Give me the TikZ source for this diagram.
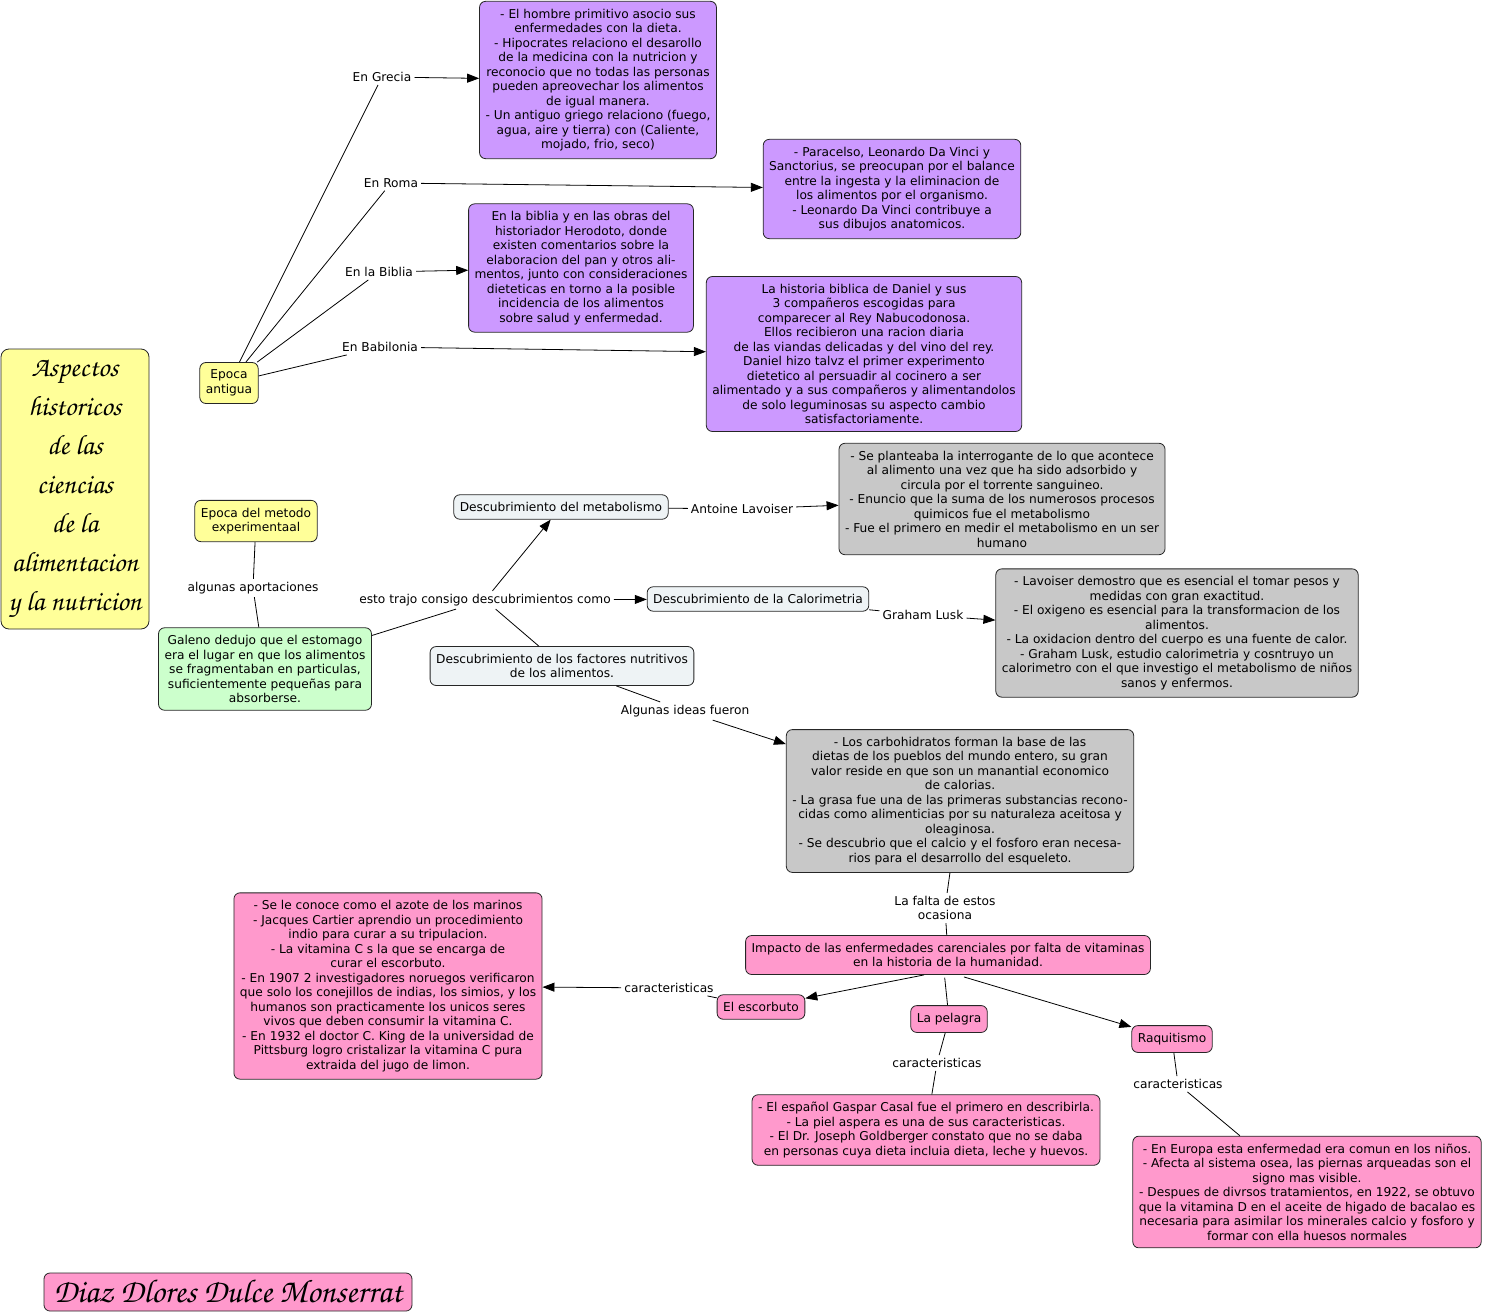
\documentclass[tikz,border=0pt]{standalone}
\usepackage{fontspec}
\setmainfont{DejaVu Sans}
\newfontfamily\letracursiva{texgyrechorus-mediumitalic}[Extension=.otf]
\usetikzlibrary{arrows.meta}
\definecolor{amarillo}{HTML}{FFFF99}
\definecolor{lila}{HTML}{CC99FF}
\definecolor{verdecito}{HTML}{CCFFCC}
\definecolor{celeste}{HTML}{EEF3F5}
\definecolor{grisclaro}{HTML}{C8C8C8}
\definecolor{rosa}{HTML}{FF99CC}
\begin{document}
\begin{tikzpicture}[x=1pt, y=-1pt,
    every node/.style={font=\fontsize{12.2}{14.5}\selectfont, align=center, inner sep=3pt},
    caja/.style={draw=black!85, line width=0.8pt, rounded corners=6pt, inner xsep=6pt, inner ysep=7.5pt},
    enlace/.style={draw=black, line width=0.8pt},
    flecha/.style={enlace, -{Triangle[length=12pt,width=9pt]}}]
    \useasboundingbox (0,0) rectangle (1486,1314);

    % titulo y autora
    \node[caja, fill=amarillo, rounded corners=8pt, minimum width=148, minimum height=280,
          font=\letracursiva\fontsize{28}{39}\selectfont] (titulo) at (75,489)
        {Aspectos\\historicos\\de las\\ciencias\\de la\\alimentacion\\y la nutricion};
    \node[caja, fill=rosa, minimum width=368, minimum height=38, inner ysep=2pt,
          font=\letracursiva\fontsize{33}{33}\selectfont] (autora) at (228,1292)
        {Diaz Dlores Dulce Monserrat};

    % Epoca antigua
    \node[caja, fill=amarillo] (antigua) at (229,383) {Epoca\\antigua};
    \node[caja, fill=lila] (grecia) at (598,80)
        {- El hombre primitivo asocio sus\\enfermedades con la dieta.\\- Hipocrates relaciono el desarollo\\de la medicina con la nutricion y\\reconocio que no todas las personas\\pueden apreovechar los alimentos\\de igual manera.\\- Un antiguo griego relaciono (fuego,\\agua, aire y tierra) con (Caliente,\\mojado, frio, seco)};
    \node[caja, fill=lila] (roma) at (892,189)
        {- Paracelso, Leonardo Da Vinci y\\Sanctorius, se preocupan por el balance\\entre la ingesta y la eliminacion de\\los alimentos por el organismo.\\- Leonardo Da Vinci contribuye a\\sus dibujos anatomicos.};
    \node[caja, fill=lila] (biblia) at (581,268)
        {En la biblia y en las obras del\\historiador Herodoto, donde\\existen comentarios sobre la\\elaboracion del pan y otros ali-\\mentos, junto con consideraciones\\dieteticas en torno a la posible\\incidencia de los alimentos\\sobre salud y enfermedad.};
    \node[caja, fill=lila] (babilonia) at (864,354)
        {La historia biblica de Daniel y sus\\3 compañeros escogidas para\\comparecer al Rey Nabucodonosa.\\Ellos recibieron una racion diaria\\de las viandas delicadas y del vino del rey.\\Daniel hizo talvz el primer experimento\\dietetico al persuadir al cocinero a ser\\alimentado y a sus compañeros y alimentandolos\\de solo leguminosas su aspecto cambio\\satisfactoriamente.};

    \node (lgrecia) at (382,77) {En Grecia};
    \node (lroma) at (391,183) {En Roma};
    \node (lbiblia) at (379,272) {En la Biblia};
    \node (lbabilonia) at (380,347) {En Babilonia};
    \draw[enlace] (antigua) -- (lgrecia);
    \draw[enlace] (antigua) -- (lroma);
    \draw[enlace] (antigua) -- (lbiblia);
    \draw[enlace] (antigua) -- (lbabilonia);
    \draw[flecha] (lgrecia) -- (grecia);
    \draw[flecha] (lroma) -- (roma);
    \draw[flecha] (lbiblia) -- (biblia);
    \draw[flecha] (lbabilonia) -- (babilonia);

    % Epoca del metodo experimental
    \node[caja, fill=amarillo] (metodo) at (256,521) {Epoca del metodo\\experimentaal};
    \node[caja, fill=verdecito] (galeno) at (265,669)
        {Galeno dedujo que el estomago\\era el lugar en que los alimentos\\se fragmentaban en particulas,\\suficientemente pequeñas para\\absorberse.};
    \node[caja, fill=celeste] (metabolismo) at (561,507) {Descubrimiento del metabolismo};
    \node[caja, fill=celeste] (calorimetria) at (758,599) {Descubrimiento de la Calorimetria};
    \node[caja, fill=celeste] (factores) at (562,666) {Descubrimiento de los factores nutritivos\\de los alimentos.};
    \node[caja, fill=grisclaro] (lavoisier) at (1002,499)
        {- Se planteaba la interrogante de lo que acontece\\al alimento una vez que ha sido adsorbido y\\circula por el torrente sanguineo.\\- Enuncio que la suma de los numerosos procesos\\quimicos fue el metabolismo\\- Fue el primero en medir el metabolismo en un ser\\humano};
    \node[caja, fill=grisclaro] (lusk) at (1177,633)
        {- Lavoiser demostro que es esencial el tomar pesos y\\medidas con gran exactitud.\\- El oxigeno es esencial para la transformacion de los\\alimentos.\\- La oxidacion dentro del cuerpo es una fuente de calor.\\- Graham Lusk, estudio calorimetria y cosntruyo un\\calorimetro con el que investigo el metabolismo de niños\\sanos y enfermos.};
    \node[caja, fill=grisclaro] (ideas) at (960,801)
        {- Los carbohidratos forman la base de las\\dietas de los pueblos del mundo entero, su gran\\valor reside en que son un manantial economico\\de calorias.\\- La grasa fue una de las primeras substancias recono-\\cidas como alimenticias por su naturaleza aceitosa y\\oleaginosa.\\- Se descubrio que el calcio y el fosforo eran necesa-\\rios para el desarrollo del esqueleto.};

    \node (laportes) at (253,588) {algunas aportaciones};
    \node (ltrajo) at (485,600) {esto trajo consigo descubrimientos como};
    \node (lantoine) at (742,509) {Antoine Lavoiser};
    \node (lgraham) at (923,615) {Graham Lusk};
    \node (lideas) at (685,711) {Algunas ideas fueron};
    \draw[enlace] (metodo) -- (laportes);
    \draw[enlace] (laportes) -- (galeno);
    \draw[enlace] (galeno) -- (ltrajo);
    \draw[flecha] (ltrajo) -- (metabolismo);
    \draw[flecha] (ltrajo) -- (calorimetria);
    \draw[enlace] (ltrajo) -- (factores);
    \draw[enlace] (metabolismo) -- (lantoine);
    \draw[flecha] (lantoine) -- (lavoisier);
    \draw[enlace] (calorimetria) -- (lgraham);
    \draw[flecha] (lgraham) -- (lusk);
    \draw[enlace] (factores) -- (lideas);
    \draw[flecha] (lideas) -- (ideas);

    % enfermedades carenciales
    \node (lfalta) at (945,908) {La falta de estos\\ocasiona};
    \node (lcomo) at (944,971) {como};
    \node[caja, fill=rosa] (impacto) at (948,955) {Impacto de las enfermedades carenciales por falta de vitaminas\\en la historia de la humanidad.};
    \node[caja, fill=rosa] (escorbuto) at (761,1007) {El escorbuto};
    \node[caja, fill=rosa] (pelagra) at (949,1019) {La pelagra};
    \node[caja, fill=rosa] (raquitismo) at (1172,1039) {Raquitismo};
    \node[caja, fill=rosa] (iescorbuto) at (388,986)
        {- Se le conoce como el azote de los marinos\\- Jacques Cartier aprendio un procedimiento\\indio para curar a su tripulacion.\\- La vitamina C s la que se encarga de\\curar el escorbuto.\\- En 1907 2 investigadores noruegos verificaron\\que solo los conejillos de indias, los simios, y los\\humanos son practicamente los unicos seres\\vivos que deben consumir la vitamina C.\\- En 1932 el doctor C. King de la universidad de\\Pittsburg logro cristalizar la vitamina C pura\\extraida del jugo de limon.};
    \node[caja, fill=rosa] (ipelagra) at (926,1130)
        {- El español Gaspar Casal fue el primero en describirla.\\- La piel aspera es una de sus caracteristicas.\\- El Dr. Joseph Goldberger constato que no se daba\\en personas cuya dieta incluia dieta, leche y huevos.};
    \node[caja, fill=rosa] (iraquitismo) at (1307,1192)
        {- En Europa esta enfermedad era comun en los niños.\\- Afecta al sistema osea, las piernas arqueadas son el\\signo mas visible.\\- Despues de divrsos tratamientos, en 1922, se obtuvo\\que la vitamina D en el aceite de higado de bacalao es\\necesaria para asimilar los minerales calcio y fosforo y\\formar con ella huesos normales};

    \node (lcaresc) at (669,988) {caracteristicas};
    \node (lcarpel) at (937,1063) {caracteristicas};
    \node (lcarraq) at (1178,1084) {caracteristicas};
    \draw[enlace] (ideas) -- (lfalta);
    \draw[enlace] (lfalta) -- (impacto);
    \draw[flecha] (lcomo) -- (escorbuto);
    \draw[enlace] (lcomo) -- (pelagra);
    \draw[flecha] (lcomo) -- (raquitismo);
    \draw[enlace] (escorbuto) -- (lcaresc);
    \draw[flecha] (lcaresc) -- (iescorbuto);
    \draw[enlace] (pelagra) -- (lcarpel);
    \draw[enlace] (lcarpel) -- (ipelagra);
    \draw[enlace] (raquitismo) -- (lcarraq);
    \draw[enlace] (lcarraq) -- (iraquitismo);
\end{tikzpicture}
\end{document}
